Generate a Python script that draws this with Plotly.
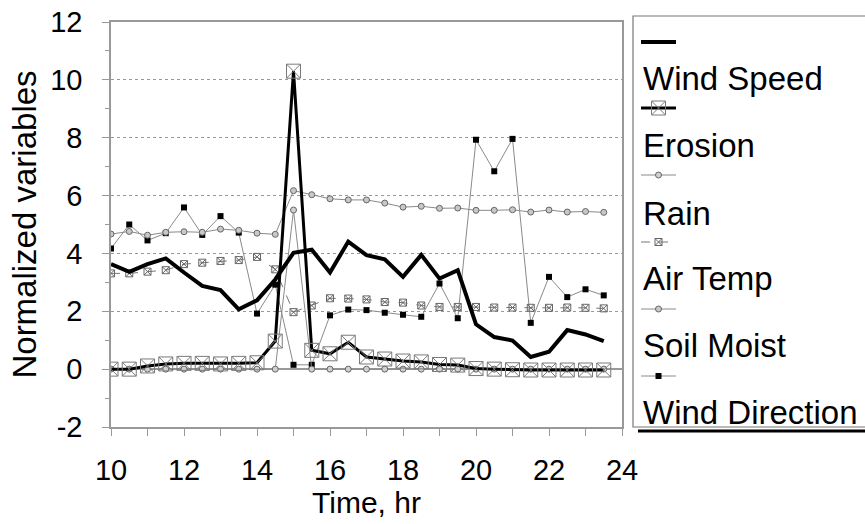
import plotly.graph_objects as go

# ---------------- data ----------------
time_hr = [10.0, 10.5, 11.0, 11.5, 12.0, 12.5, 13.0, 13.5, 14.0, 14.5,
           15.0, 15.5, 16.0, 16.5, 17.0, 17.5, 18.0, 18.5, 19.0, 19.5,
           20.0, 20.5, 21.0, 21.5, 22.0, 22.5, 23.0, 23.5]

wind_speed = [3.63, 3.36, 3.63, 3.83, 3.34, 2.88, 2.73, 2.07, 2.38, 3.10,
              4.02, 4.13, 3.34, 4.41, 3.94, 3.80, 3.19, 3.95, 3.13, 3.42,
              1.55, 1.11, 0.99, 0.42, 0.60, 1.35, 1.20, 0.97]

erosion = [0.0, 0.0, 0.11, 0.18, 0.20, 0.20, 0.18, 0.20, 0.22, 0.97,
           10.3, 0.65, 0.53, 0.93, 0.42, 0.35, 0.28, 0.25, 0.16, 0.14,
           0.02, 0.0, -0.02, -0.03, -0.03, -0.03, -0.03, -0.03]

rain = [0, 0, 0, 0, 0, 0, 0, 0, 0, 0,
        5.5, 0, 0, 0, 0, 0, 0, 0, 0, 0,
        0, 0, 0, 0, 0, 0, 0, 0]

air_temp = [3.31, 3.31, 3.37, 3.42, 3.63, 3.68, 3.74, 3.77, 3.88, 3.45,
            1.97, 2.20, 2.45, 2.44, 2.41, 2.32, 2.30, 2.20, 2.15, 2.15,
            2.15, 2.13, 2.13, 2.12, 2.12, 2.13, 2.12, 2.10]

soil_moist = [4.67, 4.76, 4.63, 4.73, 4.75, 4.73, 4.84, 4.80, 4.70, 4.66,
              6.17, 6.03, 5.89, 5.85, 5.85, 5.74, 5.60, 5.63, 5.56, 5.57,
              5.49, 5.49, 5.51, 5.43, 5.50, 5.43, 5.45, 5.42]

wind_dir = [4.17, 5.00, 4.45, 4.70, 5.59, 4.64, 5.29, 4.72, 1.92, 2.92,
            0.15, 0.15, 1.86, 2.06, 2.04, 1.95, 1.88, 1.81, 2.96, 1.76,
            7.93, 6.84, 7.96, 1.60, 3.19, 2.49, 2.76, 2.55]

legend_labels = ["Wind Speed", "Erosion", "Rain", "Air Temp", "Soil Moist", "Wind Direction"]

y_tick_vals = [-2, 0, 2, 4, 6, 8, 10, 12]
y_tick_text = ["-2", "0", "2", "4", "6", "8", "10", "12"]
x_tick_vals = [10, 12, 14, 16, 18, 20, 22, 24]

# ---------------- styles ----------------
GRAY = "#8a8a8a"
FONT = "Liberation Sans, Arial, sans-serif"

styles = {
    "Wind Speed": dict(line=dict(color="black", width=4), mode="lines", marker=None),
    "Erosion": dict(line=dict(color="black", width=3), mode="lines+markers",
                    marker=dict(symbol="square-x-open", size=14, color="#7a7a7a", line=dict(width=1))),
    "Rain": dict(line=dict(color=GRAY, width=1), mode="lines+markers",
                 marker=dict(symbol="circle", size=6, color="#d0d0d0", line=dict(color="#666", width=1))),
    "Air Temp": dict(line=dict(color="#777", width=1, dash="dash"), mode="lines+markers",
                     marker=dict(symbol="square-x-open", size=7, color="#666", line=dict(width=1))),
    "Soil Moist": dict(line=dict(color=GRAY, width=1), mode="lines+markers",
                       marker=dict(symbol="circle", size=6, color="#c8c8c8", line=dict(color="#666", width=1))),
    "Wind Direction": dict(line=dict(color=GRAY, width=1), mode="lines+markers",
                           marker=dict(symbol="square", size=6, color="black", line=dict(color="black", width=0))),
}

series = {
    "Wind Speed": wind_speed,
    "Erosion": erosion,
    "Rain": rain,
    "Air Temp": air_temp,
    "Soil Moist": soil_moist,
    "Wind Direction": wind_dir,
}

fig = go.Figure()

draw_order = ["Wind Direction", "Soil Moist", "Air Temp", "Rain", "Erosion", "Wind Speed"]
for name in draw_order:
    st = styles[name]
    kw = dict(x=time_hr, y=series[name], name=name, mode=st["mode"], line=st["line"],
              showlegend=False, xaxis="x", yaxis="y")
    if st["marker"] is not None:
        kw["marker"] = st["marker"]
    fig.add_trace(go.Scatter(**kw))

# ---------------- layout geometry (pixels) ----------------
W, H = 865, 524
ML, MR, MT, MB = 111, 0, 10, 97
PW, PH = W - ML - MR, H - MT - MB
plot_right, plot_top, plot_bottom = 622, 22, 427


def px(x):
    return (x - ML) / PW


def py(y):
    return (H - MB - y) / PH


# ---------------- manual legend ----------------
leg_left, leg_top = 633, 16
sym_x0, sym_x1 = 641, 676
sym_rows = [42, 108, 175, 242, 309, 376]
txt_rows = [79, 145, 213, 278, 345, 412]

for i, name in enumerate(legend_labels):
    st = styles[name]
    yy = sym_rows[i]
    fig.add_trace(go.Scatter(x=[sym_x0, sym_x1], y=[yy, yy], mode="lines",
                             line=st["line"], showlegend=False, hoverinfo="skip",
                             xaxis="x2", yaxis="y2"))
    if st["marker"] is not None:
        fig.add_trace(go.Scatter(x=[(sym_x0 + sym_x1) / 2], y=[yy], mode="markers",
                                 marker=st["marker"], showlegend=False, hoverinfo="skip",
                                 xaxis="x2", yaxis="y2"))
    fig.add_annotation(text=name, xref="paper", yref="paper", x=px(641), y=py(txt_rows[i]),
                       xanchor="left", yanchor="middle", showarrow=False,
                       font=dict(family=FONT, size=33, color="black"))

fig.add_shape(type="rect", xref="paper", yref="paper",
              x0=px(leg_left), x1=px(872), y0=py(427), y1=py(leg_top),
              line=dict(color="#777", width=1.2), fillcolor="rgba(0,0,0,0)", layer="below")
fig.add_shape(type="line", xref="paper", yref="paper",
              x0=px(638), x1=px(872), y0=py(431), y1=py(431),
              line=dict(color="black", width=3))

fig.update_layout(
    width=W, height=H,
    margin=dict(l=ML, r=MR, t=MT, b=MB, pad=0, autoexpand=False),
    paper_bgcolor="white", plot_bgcolor="white",
    font=dict(family=FONT, color="black"),
    showlegend=False,
    xaxis=dict(
        domain=[0, px(plot_right)], range=[10, 24],
        tickmode="array", tickvals=x_tick_vals,
        showline=True, linecolor="#999", linewidth=1.5, mirror=True,
        ticks="outside", ticklen=7, tickcolor="#999", tickwidth=1,
        minor=dict(dtick=1, ticks="outside", ticklen=7, tickcolor="#999", showgrid=False),
        showgrid=False, zeroline=False, automargin=False,
        tickfont=dict(size=29, color="black"), ticklabelstandoff=9,
        title=dict(text="Time, hr", font=dict(size=30, color="black"), standoff=4),
    ),
    yaxis=dict(
        domain=[0, py(plot_top)], range=[-2, 12],
        tickmode="array", tickvals=y_tick_vals, ticktext=y_tick_text,
        showline=True, linecolor="#999", linewidth=1.5, mirror=True,
        ticks="outside", ticklen=7, tickcolor="#999", tickwidth=1,
        minor=dict(dtick=1, ticks="outside", ticklen=4, tickcolor="#999", showgrid=False),
        showgrid=True, gridcolor="#999", gridwidth=1, griddash="dot",
        zeroline=True, zerolinecolor="#999", zerolinewidth=1.5, automargin=False,
        tickfont=dict(size=29, color="black"), ticklabelstandoff=14,
        title=dict(text="Normalized variables", font=dict(size=33, color="black"), standoff=4),
    ),
    xaxis2=dict(domain=[px(leg_left), 1], range=[leg_left, W], visible=False,
                anchor="y2", fixedrange=True, automargin=False),
    yaxis2=dict(domain=[0, 1], range=[H - MB, MT], visible=False,
                anchor="x2", fixedrange=True, automargin=False),
)

fig.write_html("out.html")
